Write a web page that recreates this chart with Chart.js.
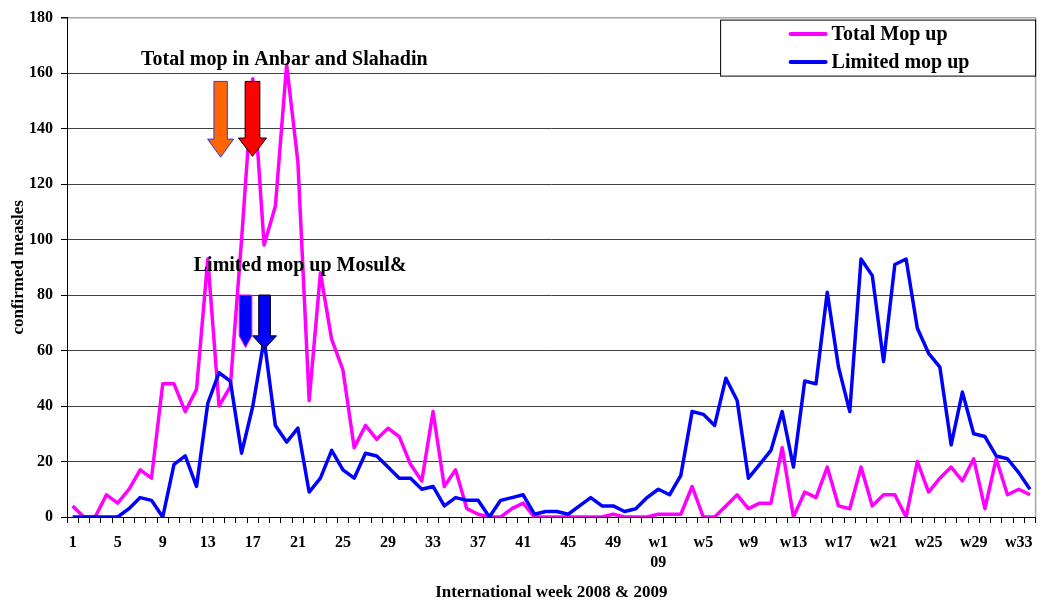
<!DOCTYPE html>
<html>
<head>
<meta charset="utf-8">
<script src="https://cdn.jsdelivr.net/npm/chart.js@4.4.1/dist/chart.umd.min.js"></script>
<style>
  html, body { margin: 0; padding: 0; background: #ffffff; }
  #wrap { width: 1040px; height: 603px; position: relative; }
</style>
</head>
<body>
<div id="wrap"><canvas id="measlesChart"></canvas></div>
<script>
const weeks = [
    '1', '2', '3', '4', '5', '6', '7', '8', '9', '10',
    '11', '12', '13', '14', '15', '16', '17', '18', '19', '20',
    '21', '22', '23', '24', '25', '26', '27', '28', '29', '30',
    '31', '32', '33', '34', '35', '36', '37', '38', '39', '40',
    '41', '42', '43', '44', '45', '46', '47', '48', '49', '50',
    '51', '52', ['w1', '09'], 'w2', 'w3', 'w4', 'w5', 'w6', 'w7', 'w8',
    'w9', 'w10', 'w11', 'w12', 'w13', 'w14', 'w15', 'w16', 'w17', 'w18',
    'w19', 'w20', 'w21', 'w22', 'w23', 'w24', 'w25', 'w26', 'w27', 'w28',
    'w29', 'w30', 'w31', 'w32', 'w33', 'w34'
];

const totalMopUp = [
    4, 0, 0, 8, 5, 10, 17, 14, 48, 48,
    38, 46, 93, 40, 47, 100, 158, 98, 112, 163,
    128, 42, 88, 64, 53, 25, 33, 28, 32, 29,
    19, 13, 38, 11, 17, 3, 1, 0, 0, 3,
    5, 0, 0, 0, 0, 0, 0, 0, 1, 0,
    0, 0, 1, 1, 1, 11, 0, 0, 4, 8,
    3, 5, 5, 25, 0, 9, 7, 18, 4, 3,
    18, 4, 8, 8, 0, 20, 9, 14, 18, 13,
    21, 3, 21, 8, 10, 8
];

const limitedMopUp = [
    0, 0, 0, 0, 0, 3, 7, 6, 0, 19,
    22, 11, 41, 52, 49, 23, 40, 64, 33, 27,
    32, 9, 14, 24, 17, 14, 23, 22, 18, 14,
    14, 10, 11, 4, 7, 6, 6, 0, 6, 7,
    8, 1, 2, 2, 1, 4, 7, 4, 4, 2,
    3, 7, 10, 8, 15, 38, 37, 33, 50, 42,
    14, 19, 24, 38, 18, 49, 48, 81, 54, 38,
    93, 87, 56, 91, 93, 68, 59, 54, 26, 45,
    30, 29, 22, 21, 16, 10
];

// annotation text, anchored in data units (category index, case count)
const notes = [
    { text: 'Total mop in Anbar and Slahadin', at: 18.8, value: 164.9 },
    { text: 'Limited mop up Mosul&', at: 20.2, value: 90.4 }
];

// campaign arrows: at = category index, top/head/tip = case counts
const arrows = [
    { at: 13.14, top: 157, head: 136.2, tip: 129.7, shaft: 13.4, width: 26, fill: '#ff6600', stroke: '#3333ff' },
    { at: 15.97, top: 157, head: 136.6, tip: 130.0, shaft: 14.7, width: 28, fill: '#ff0000', stroke: '#000000' },
    { at: 15.35, top: 80, head: 65.3, tip: 61.1, shaft: 12.7, width: 12.7, fill: '#0000ff', stroke: '#ff00ff' },
    { at: 17.04, top: 80, head: 65.3, tip: 60.6, shaft: 11.7, width: 24, fill: '#0000ff', stroke: '#000000' }
];

const serif = "'Liberation Serif', 'Times New Roman', serif";

const overlayPlugin = {
    id: 'overlay',
    afterDatasetsDraw(chart) {
        const { ctx, chartArea: area, scales: { x, y } } = chart;
        ctx.save();

        // plot area right edge
        ctx.strokeStyle = '#a6a6a6';
        ctx.lineWidth = 1.5;
        ctx.beginPath();
        ctx.moveTo(area.right, area.top);
        ctx.lineTo(area.right, area.bottom);
        ctx.stroke();

        // arrows
        arrows.forEach(a => {
            const cx = x.getPixelForValue(a.at);
            const yTop = y.getPixelForValue(a.top);
            const yHead = y.getPixelForValue(a.head);
            const yTip = y.getPixelForValue(a.tip);
            const s = a.shaft / 2, h = a.width / 2;
            ctx.beginPath();
            ctx.moveTo(cx - s, yTop);
            ctx.lineTo(cx + s, yTop);
            ctx.lineTo(cx + s, yHead);
            ctx.lineTo(cx + h, yHead);
            ctx.lineTo(cx, yTip);
            ctx.lineTo(cx - h, yHead);
            ctx.lineTo(cx - s, yHead);
            ctx.closePath();
            ctx.fillStyle = a.fill;
            ctx.fill();
            ctx.strokeStyle = a.stroke;
            ctx.lineWidth = 1;
            ctx.stroke();
        });

        // notes
        ctx.font = 'bold 20px ' + serif;
        ctx.fillStyle = '#000000';
        ctx.textAlign = 'center';
        ctx.textBaseline = 'middle';
        notes.forEach(n => {
            ctx.fillText(n.text, x.getPixelForValue(n.at), y.getPixelForValue(n.value));
        });

        // legend box inside the plot, top right
        const boxW = 315, boxH = 56;
        const bx = area.right - boxW, by = area.top + 2.5;
        ctx.fillStyle = '#ffffff';
        ctx.fillRect(bx, by, boxW, boxH);
        ctx.strokeStyle = '#000000';
        ctx.lineWidth = 1;
        ctx.strokeRect(bx, by, boxW, boxH);
        ctx.textAlign = 'left';
        chart.data.datasets.forEach((ds, i) => {
            const ly = by + 14 + i * 28;
            ctx.strokeStyle = ds.borderColor;
            ctx.lineWidth = 4;
            ctx.lineCap = 'round';
            ctx.beginPath();
            ctx.moveTo(bx + 70, ly);
            ctx.lineTo(bx + 105, ly);
            ctx.stroke();
            ctx.fillStyle = '#000000';
            ctx.fillText(ds.label, bx + 111, ly + 1);
        });

        ctx.restore();
    }
};

const ctx = document.getElementById('measlesChart').getContext('2d');
const measlesChart = new Chart(ctx, {
    type: 'line',
    data: {
        labels: weeks,
        datasets: [
            {
                label: 'Total Mop up',
                data: totalMopUp,
                borderColor: '#ff00ff',
                borderWidth: 3.5,
                pointRadius: 0,
                tension: 0,
                fill: false,
                borderJoinStyle: 'round',
                order: 1
            },
            {
                label: 'Limited mop up',
                data: limitedMopUp,
                borderColor: '#0000ff',
                borderWidth: 3.5,
                pointRadius: 0,
                tension: 0,
                fill: false,
                borderJoinStyle: 'round',
                order: 0
            }
        ]
    },
    options: {
        responsive: true,
        maintainAspectRatio: false,
        animation: false,
        layout: { padding: { left: 0, right: 2, top: 16, bottom: 0 } },
        plugins: {
            legend: { display: false },
            tooltip: { enabled: false }
        },
        scales: {
            x: {
                offset: true,
                afterFit: scale => { scale.height = 86; },
                grid: {
                    offset: true,
                    drawOnChartArea: false,
                    drawTicks: true,
                    tickLength: 6,
                    color: '#000000'
                },
                border: { display: true, color: '#000000', width: 1 },
                ticks: {
                    autoSkip: false,
                    maxRotation: 0,
                    padding: 10,
                    color: '#000000',
                    font: { family: serif, size: 16, weight: 'bold', lineHeight: 1.25 },
                    callback: (value, index) => (index % 4 === 0 ? weeks[index] : '')
                },
                title: {
                    display: true,
                    text: 'International week 2008 & 2009',
                    color: '#000000',
                    font: { family: serif, size: 17, weight: 'bold' },
                    padding: { top: 0, bottom: 0 }
                }
            },
            y: {
                min: 0,
                max: 180,
                afterFit: scale => { scale.width = 67; },
                grid: {
                    color: c => (c.tick && c.tick.value === 180 ? '#a6a6a6' : '#404040'),
                    lineWidth: c => (c.tick && c.tick.value === 180 ? 1.5 : 1),
                    tickLength: 6,
                    tickColor: '#000000'
                },
                border: { display: true, color: '#000000', width: 1 },
                ticks: {
                    stepSize: 20,
                    padding: 8,
                    color: '#000000',
                    font: { family: serif, size: 16, weight: 'bold' }
                },
                title: {
                    display: true,
                    text: 'confirmed measles',
                    color: '#000000',
                    font: { family: serif, size: 17, weight: 'bold' },
                    padding: { top: 8, bottom: 0 }
                }
            }
        }
    },
    plugins: [overlayPlugin]
});
</script>
</body>
</html>
